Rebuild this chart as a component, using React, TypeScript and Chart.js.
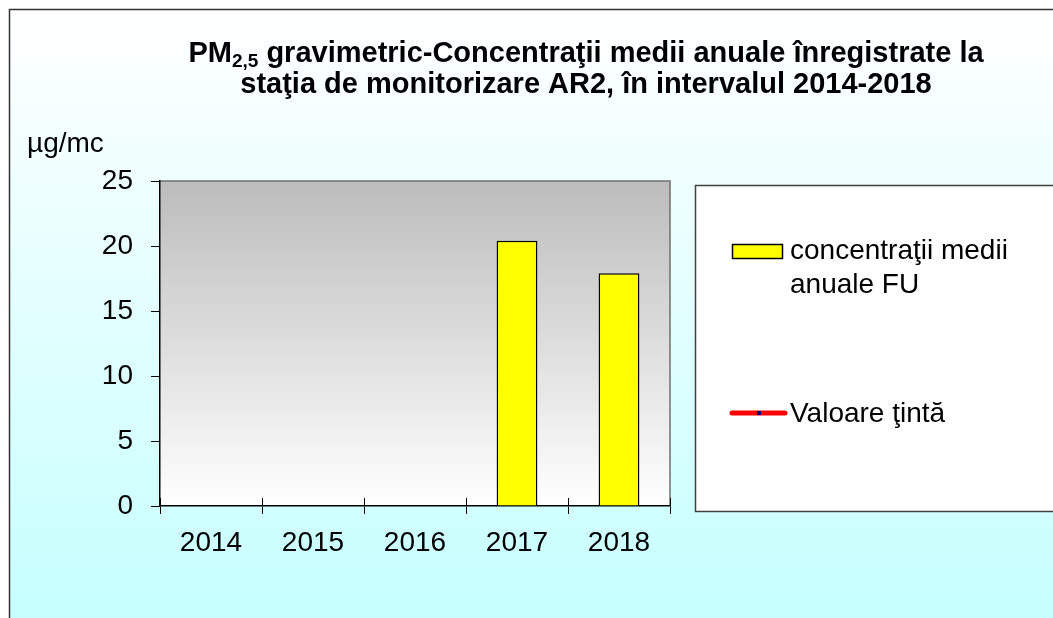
import React, { useEffect, useRef } from 'react';
import { Chart, registerables } from 'chart.js';

Chart.register(...registerables);

const categories = ['2014', '2015', '2016', '2017', '2018'];
const annualMeans: (number | null)[] = [null, null, null, 20.4, 17.9];
const targetValues: (number | null)[] = [null, null, null, null, null];
const yMin = 0;
const yMax = 25;
const yStep = 5;
const seriesLabels = ['concentraţii medii anuale FU', 'Valoare ţintă'];
const titlePrefix = 'PM';
const titleSub = '2,5';
const titleRest = ' gravimetric-Concentraţii medii anuale înregistrate la';
const titleLine2 = 'staţia de monitorizare AR2, în intervalul 2014-2018';
const unitLabel = 'µg/mc';

const FONT = '"Liberation Sans", Arial, Helvetica, sans-serif';

function wrapText(ctx: CanvasRenderingContext2D, text: string, maxWidth: number): string[] {
  const words = text.split(' ');
  const lines: string[] = [];
  let cur = '';
  for (const w of words) {
    const test = cur ? cur + ' ' + w : w;
    if (ctx.measureText(test).width > maxWidth && cur) {
      lines.push(cur);
      cur = w;
    } else {
      cur = test;
    }
  }
  if (cur) lines.push(cur);
  return lines;
}

const decorPlugin = {
  id: 'decor',
  beforeDraw(chart: any) {
    const { ctx, width, height, chartArea: a } = chart;
    ctx.save();
    ctx.fillStyle = '#ffffff';
    ctx.fillRect(0, 0, width, height);
    const g = ctx.createLinearGradient(0, 10, 0, height);
    g.addColorStop(0, '#ffffff');
    g.addColorStop(1, '#c6ffff');
    ctx.fillStyle = g;
    ctx.fillRect(9.5, 9.5, width, height);
    ctx.strokeStyle = '#333333';
    ctx.lineWidth = 1.5;
    ctx.beginPath();
    ctx.moveTo(9.5, height + 2);
    ctx.lineTo(9.5, 9.5);
    ctx.lineTo(width + 2, 9.5);
    ctx.stroke();

    const pg = ctx.createLinearGradient(0, a.top, 0, a.bottom);
    pg.addColorStop(0, '#bcbcbc');
    pg.addColorStop(1, '#ffffff');
    ctx.fillStyle = pg;
    ctx.fillRect(a.left, a.top, a.right - a.left, a.bottom - a.top);
    // plot frame top/right
    ctx.strokeStyle = '#707070';
    ctx.lineWidth = 1.5;
    ctx.beginPath();
    ctx.moveTo(a.left, a.top);
    ctx.lineTo(a.right, a.top);
    ctx.lineTo(a.right, a.bottom);
    ctx.stroke();
    ctx.restore();
  },
  afterDraw(chart: any) {
    const { ctx, chartArea: a } = chart;
    const xs = chart.scales.x;
    ctx.save();
    // inner parts of category tick marks
    const step = xs.getPixelForValue(1) - xs.getPixelForValue(0);
    ctx.strokeStyle = '#000';
    ctx.lineWidth = 1;
    ctx.beginPath();
    for (let i = 0; i <= categories.length; i++) {
      const x = Math.round(xs.getPixelForValue(i) - step / 2) + 0.5;
      ctx.moveTo(x, a.bottom - 8);
      ctx.lineTo(x, a.bottom);
    }
    ctx.stroke();

    // title
    ctx.fillStyle = '#000';
    ctx.textBaseline = 'alphabetic';
    ctx.textAlign = 'left';
    const big = `bold 29px ${FONT}`;
    const small = `bold 19px ${FONT}`;
    ctx.font = big;
    const w1 = ctx.measureText(titlePrefix).width;
    const w3 = ctx.measureText(titleRest).width;
    ctx.font = small;
    const w2 = ctx.measureText(titleSub).width;
    const cx = 586;
    let x = cx - (w1 + w2 + w3) / 2;
    ctx.font = big;
    ctx.fillText(titlePrefix, x, 62);
    x += w1;
    ctx.font = small;
    ctx.fillText(titleSub, x, 67);
    x += w2;
    ctx.font = big;
    ctx.fillText(titleRest, x, 62);
    ctx.textAlign = 'center';
    ctx.fillText(titleLine2, cx, 93);

    // unit label
    ctx.textAlign = 'left';
    ctx.font = `28px ${FONT}`;
    ctx.fillText(unitLabel, 27, 152);

    // legend box
    ctx.fillStyle = '#ffffff';
    ctx.fillRect(695.5, 185.5, 360, 326);
    ctx.strokeStyle = '#404040';
    ctx.lineWidth = 1.5;
    ctx.strokeRect(695.5, 185.5, 360, 326);

    const ds0 = chart.data.datasets[0];
    const ds1 = chart.data.datasets[1];
    // item 1
    ctx.fillStyle = ds0.backgroundColor;
    ctx.fillRect(732.5, 244.5, 50, 14);
    ctx.strokeStyle = ds0.borderColor;
    ctx.lineWidth = 1.5;
    ctx.strokeRect(732.5, 244.5, 50, 14);
    ctx.fillStyle = '#000';
    ctx.font = `28px ${FONT}`;
    const lines = wrapText(ctx, ds0.label, 250);
    lines.forEach((ln, i) => ctx.fillText(ln, 790, 259 + i * 34));

    // item 2
    ctx.strokeStyle = ds1.borderColor;
    ctx.lineWidth = 5;
    ctx.lineCap = 'round';
    ctx.beginPath();
    ctx.moveTo(732, 413);
    ctx.lineTo(785, 413);
    ctx.stroke();
    ctx.fillStyle = ds1.pointBackgroundColor;
    ctx.fillRect(757, 411, 4, 4);
    ctx.fillStyle = '#000';
    ctx.fillText(ds1.label, 790, 422);
    ctx.restore();
  },
};

export default function App() {
  const ref = useRef<HTMLCanvasElement>(null);
  useEffect(() => {
    const chart = new Chart(ref.current as HTMLCanvasElement, {
      type: 'bar',
      data: {
        labels: categories,
        datasets: [
          {
            type: 'bar',
            label: seriesLabels[0],
            data: annualMeans,
            backgroundColor: '#ffff00',
            borderColor: '#000000',
            borderWidth: 1.5,
            barPercentage: 0.4,
            categoryPercentage: 1,
            order: 2,
          } as any,
          {
            type: 'line',
            label: seriesLabels[1],
            data: targetValues,
            borderColor: '#ff0000',
            borderWidth: 5,
            pointStyle: 'rect',
            pointRadius: 2,
            pointBackgroundColor: '#000080',
            pointBorderColor: '#000080',
            order: 1,
          } as any,
        ],
      },
      options: {
        responsive: false,
        animation: false,
        layout: { padding: { top: 181, right: 383, left: 0, bottom: 0 } },
        plugins: {
          legend: { display: false },
          title: { display: false },
          tooltip: { enabled: false },
        },
        scales: {
          x: {
            ticks: { color: '#000', font: { family: FONT, size: 28 }, padding: 12 },
            grid: { offset: true, drawOnChartArea: false, drawTicks: true, tickLength: 8, color: '#000' },
            border: { display: true, color: '#000', width: 1.5 },
            afterFit: (s: any) => {
              s.height = 112;
            },
          },
          y: {
            min: yMin,
            max: yMax,
            ticks: { stepSize: yStep, color: '#000', font: { family: FONT, size: 28 }, padding: 18 },
            grid: { drawOnChartArea: false, drawTicks: true, tickLength: 9, color: '#000' },
            border: { display: true, color: '#000', width: 1.5 },
            afterFit: (s: any) => {
              s.width = 160;
            },
          },
        },
      } as any,
      plugins: [decorPlugin],
    });
    return () => chart.destroy();
  }, []);
  return (
    <canvas
      ref={ref}
      width={1053}
      height={618}
      style={{ position: 'fixed', left: 0, top: 0, width: 1053, height: 618, display: 'block' }}
    />
  );
}
